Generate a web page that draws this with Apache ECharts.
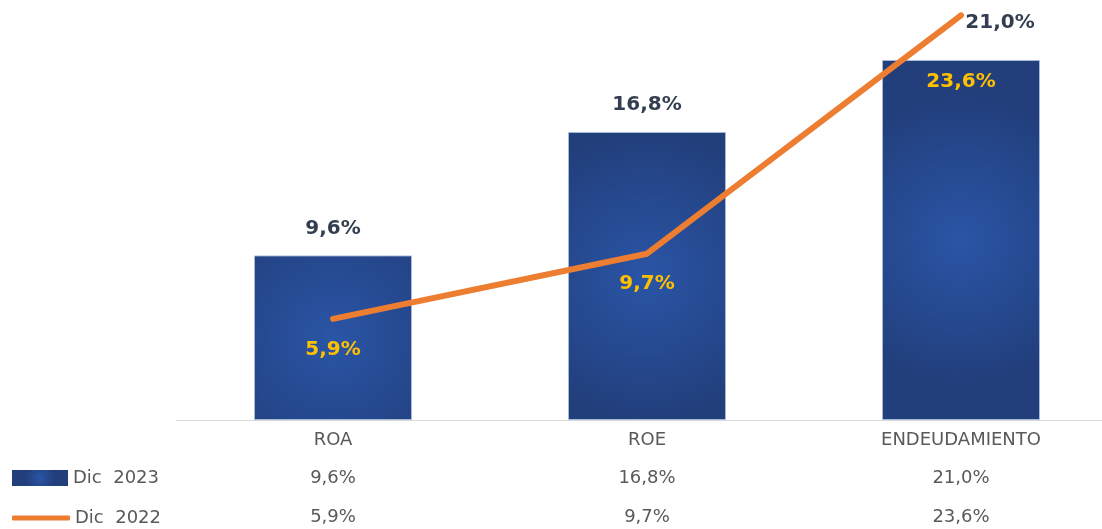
<!DOCTYPE html>
<html>
<head>
<meta charset="utf-8">
<script src="https://cdn.jsdelivr.net/npm/echarts@6/dist/echarts.min.js"></script>
<style>
  html, body { margin: 0; padding: 0; background: #fff; }
  #chart { width: 1102px; height: 529px; }
</style>
</head>
<body>
<div id="chart"></div>
<script>
var categories = ['ROA', 'ROE', 'ENDEUDAMIENTO'];
var values2023 = [9.6, 16.8, 21.0];
var values2022 = [5.9, 9.7, 23.6];
var seriesNames = ['Dic  2023', 'Dic  2022'];

function pct(v) {
    return v.toFixed(1).replace('.', ',') + '%';
}

var fontFam = '"DejaVu Sans", sans-serif';

var barColor = {
    type: 'radial', x: 0.5, y: 0.5, r: 0.9,
    colorStops: [
        { offset: 0, color: '#2a55a6' },
        { offset: 1, color: '#223f7c' }
    ]
};

// the last bar label sits off to the right in the original
var barData = values2023.map(function (v, i) {
    var item = { value: v };
    if (i == values2023.length - 1) item.label = { offset: [39, -10] };
    return item;
});
var lineData = values2022.map(function (v, i) {
    var item = { value: v };
    if (i == values2022.length - 1) item.label = { offset: [0, 36] };
    return item;
});

function tableAxis(vals, offset) {
    return {
        type: 'category',
        data: categories,
        position: 'bottom',
        offset: offset,
        axisLine: { show: false },
        axisTick: { show: false },
        axisLabel: {
            margin: 11,
            fontSize: 18,
            fontFamily: fontFam,
            color: '#595959',
            formatter: function (val, idx) { return pct(vals[idx]); }
        }
    };
}

var chart = echarts.init(document.getElementById('chart'));
chart.setOption({
    animation: false,
    grid: { left: 176, width: 942, top: 0, bottom: 109, containLabel: false, outerBoundsMode: 'none' },
    legend: [
        {
            data: [seriesNames[0]],
            left: 12, top: 469,
            padding: 0,
            icon: 'rect',
            itemWidth: 56, itemHeight: 16,
            itemStyle: { borderWidth: 0 },
            textStyle: { fontSize: 18, fontFamily: fontFam, color: '#595959' }
        },
        {
            data: [seriesNames[1]],
            left: 12, top: 509,
            padding: 0,
            icon: 'roundRect',
            itemWidth: 58, itemHeight: 5,
            textStyle: { fontSize: 18, fontFamily: fontFam, color: '#595959' }
        }
    ],
    xAxis: [
        {
            type: 'category',
            data: categories,
            axisLine: { lineStyle: { color: '#d9d9d9', width: 1 } },
            axisTick: { show: false },
            axisLabel: { margin: 11, fontSize: 18, fontFamily: fontFam, color: '#595959' }
        },
        tableAxis(values2023, 38),
        tableAxis(values2022, 77)
    ],
    yAxis: {
        type: 'value',
        min: 0,
        max: 24.5,
        show: false
    },
    series: [
        {
            name: seriesNames[0],
            type: 'bar',
            data: barData,
            barWidth: 158,
            itemStyle: { color: barColor, borderColor: 'rgba(170,188,222,0.9)', borderWidth: 1 },
            label: {
                show: true,
                position: 'top',
                distance: 17,
                fontSize: 20,
                fontWeight: 'bold',
                fontFamily: fontFam,
                color: '#333f50',
                formatter: function (p) { return pct(p.value); }
            }
        },
        {
            name: seriesNames[1],
            type: 'line',
            data: lineData,
            symbol: 'circle',
            symbolSize: 1,
            lineStyle: { color: '#ed7d31', width: 6, cap: 'round' },
            itemStyle: { color: '#ed7d31' },
            label: {
                show: true,
                position: 'bottom',
                distance: 20,
                fontSize: 20,
                fontWeight: 'bold',
                fontFamily: fontFam,
                color: '#ffc000',
                formatter: function (p) { return pct(p.value); }
            },
            z: 5
        }
    ]
});
</script>
</body>
</html>
